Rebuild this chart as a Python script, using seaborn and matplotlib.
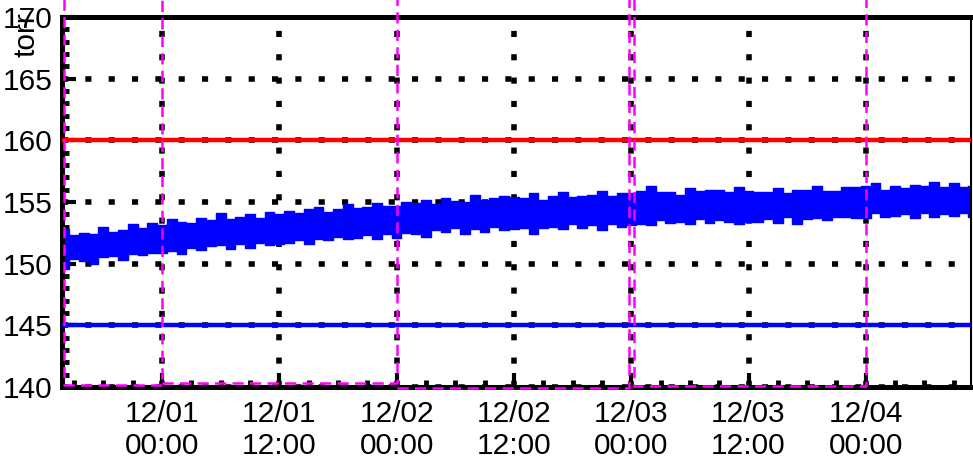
import pandas as pd
import matplotlib
matplotlib.use('Agg')
import matplotlib.pyplot as plt
import matplotlib.dates as mdates
from matplotlib.ticker import MultipleLocator
import seaborn as sns

# pressure band, hourly envelope (torr)
band_start = '2023-11-30 14:00'
upper = [152.8, 152.3, 152.5, 152.4, 153.0, 152.6, 152.7, 153.2, 152.9, 153.3,
         153.1, 153.6, 153.4, 153.3, 153.7, 153.5, 154.1, 153.6, 153.8, 154.0, 153.7, 154.2,
         154.0, 154.3, 154.1, 154.4, 154.6, 154.2, 154.4, 154.8, 154.5, 154.6, 154.9, 154.7,
         154.7, 155.0, 154.9, 155.2, 154.8, 155.3, 155.1, 155.0, 155.6, 155.2, 155.3, 155.5,
         155.4, 155.3, 155.7, 155.2, 155.5, 155.8, 155.4, 155.5, 155.6, 155.9, 155.5, 155.7,
         155.7, 155.9, 156.3, 155.8, 155.8, 155.6, 156.1, 155.9, 156.0, 156.0, 155.8, 156.2,
         155.9, 155.8, 155.8, 156.1, 155.7, 156.0, 156.0, 156.3, 155.9, 155.9, 156.2, 156.2,
         156.3, 156.5, 156.0, 156.3, 156.1, 156.4, 156.3, 156.6, 156.2, 156.5, 156.2, 156.3]
lower = [149.6, 150.4, 150.2, 150.0, 150.5, 150.6, 150.3, 150.8, 150.7, 150.9,
         150.9, 151.0, 150.8, 151.3, 151.1, 151.4, 151.5, 151.2, 151.6, 151.3, 151.7, 151.5,
         151.6, 151.7, 151.9, 151.6, 152.0, 151.9, 152.2, 152.0, 152.1, 152.3, 152.0, 152.4,
         152.1, 152.5, 152.4, 152.2, 152.7, 152.6, 152.9, 152.4, 152.8, 152.6, 153.0, 152.7,
         152.8, 152.9, 152.4, 152.9, 153.0, 152.8, 153.2, 152.9, 153.1, 152.7, 153.2, 153.0,
         153.1, 153.2, 153.1, 153.5, 153.3, 153.4, 153.2, 153.6, 153.3, 153.5, 153.4, 153.2,
         153.4, 153.4, 153.6, 153.3, 153.8, 153.2, 153.6, 153.7, 153.5, 153.8, 153.8, 153.7,
         153.7, 154.1, 153.8, 153.9, 154.0, 153.7, 154.1, 153.8, 154.0, 153.9, 154.1, 153.8]
times = pd.date_range(band_start, periods=len(upper), freq='h')

# magenta status flag, one segment per state (goes off scale at the switch times)
flag_seg = [1, 1, 1, 1,
            2, 2, 2,
            3, 3, 3, 3,
            4, 4, 4, 4]
flag_times = ['2023-11-30 14:00', '2023-11-30 14:00', '2023-12-01 00:00', '2023-12-01 00:00',
              '2023-12-01 00:00', '2023-12-02 00:00', '2023-12-02 00:00',
              '2023-12-02 00:00', '2023-12-02 23:45', '2023-12-02 23:45', '2023-12-02 23:45',
              '2023-12-03 00:15', '2023-12-03 00:15', '2023-12-04 00:00', '2023-12-04 00:00']
flag_values = [200, 140.2, 140.2, 200,
               140.3, 140.3, 200,
               139.9, 139.9, 200, 200,
               200, 140.05, 140.05, 200]

limit_high = 160
limit_low = 145
x_range = ['2023-11-30 13:46', '2023-12-04 10:46']
y_range = [140, 170]

sns.set_style('white')
plt.rcParams['font.family'] = ['Liberation Sans', 'DejaVu Sans']

fig = plt.figure(figsize=(9.73, 4.58), dpi=100)
ax = fig.add_axes([0.0637, 0.155, 0.9343, 0.808])

ax.grid(True, which='major', color='black', linestyle=(0, (1.1, 3.1)), linewidth=4)
ax.set_axisbelow(True)

ax.fill_between(times, lower, upper, step='mid', color='blue', edgecolor='blue',
                linewidth=1.0, zorder=2)

ax.axhline(limit_high, color='red', linewidth=3.2, zorder=3)
ax.axhline(limit_low, color='blue', linewidth=3.2, zorder=3)

flag = pd.DataFrame({'seg': flag_seg, 'time': pd.to_datetime(flag_times), 'value': flag_values})
sns.lineplot(data=flag, x='time', y='value', units='seg', sort=False, estimator=None, ax=ax,
             color='magenta', linewidth=1.8, linestyle=(0, (4.5, 2.5)), clip_on=False, zorder=4)

ax.set_xlim(pd.to_datetime(x_range[0]), pd.to_datetime(x_range[1]))
ax.set_ylim(*y_range)
ax.set_xlabel('')
ax.set_ylabel('')

ax.xaxis.set_major_locator(mdates.HourLocator(byhour=[0, 12]))
ax.xaxis.set_minor_locator(mdates.HourLocator(byhour=range(0, 24, 3)))
ax.xaxis.set_major_formatter(mdates.DateFormatter('%m/%d\n%H:%M'))
ax.yaxis.set_major_locator(MultipleLocator(5))
ax.yaxis.set_minor_locator(MultipleLocator(1))

ax.tick_params(which='both', direction='in', colors='black', labelsize=21.5,
               top=False, right=False, bottom=True, left=True)
ax.tick_params(which='major', length=10, width=3)
ax.tick_params(which='minor', length=5, width=3.5)
ax.tick_params(axis='x', pad=9)
ax.tick_params(axis='y', pad=7)

for side in ['left', 'bottom', 'top']:
    ax.spines[side].set_linewidth(3.6)
    ax.spines[side].set_color('black')
ax.spines['right'].set_linewidth(1.5)
ax.spines['right'].set_color('black')

# unit label sits at the top left, over the 170 tick label
ax.text(-0.024, 1.0135, 'torr', transform=ax.transAxes, rotation=90,
        ha='right', va='top', fontsize=21.5, color='black', clip_on=False, zorder=5)

fig.savefig('out.png', dpi=100)
